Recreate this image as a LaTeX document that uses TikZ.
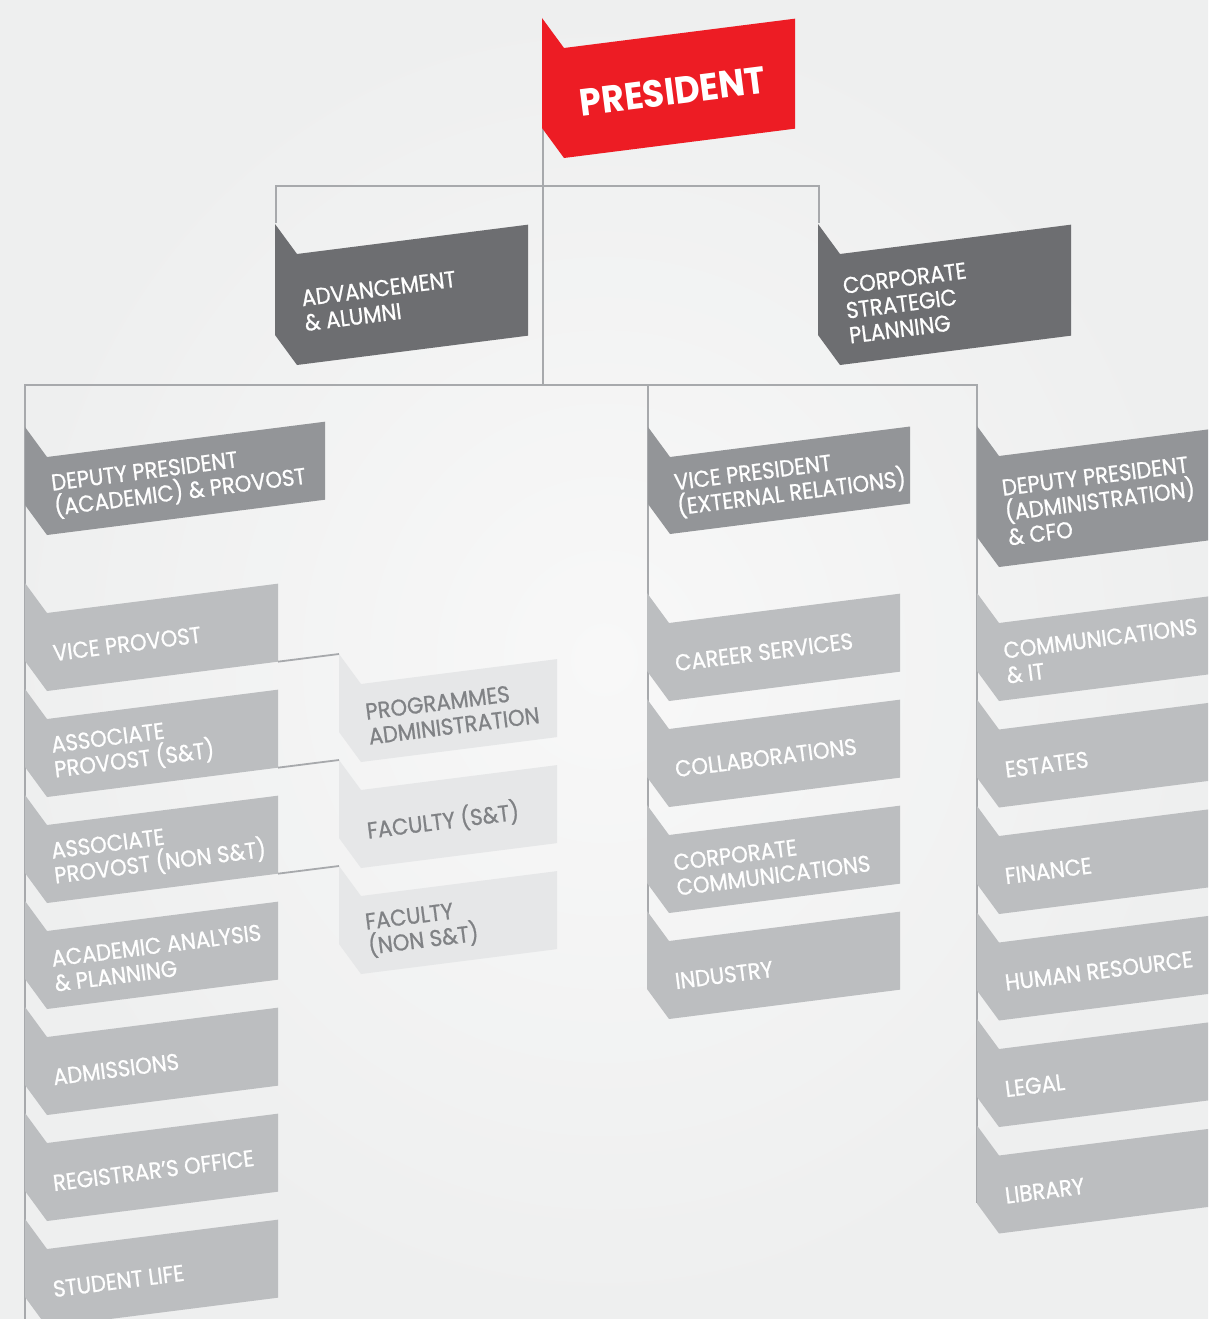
\documentclass[tikz,border=0pt]{standalone}
\usepackage{fontspec}
\setmainfont{Poppins}[FakeStretch=0.92]
\newfontfamily\lblfont{Poppins}[FakeStretch=0.92, FakeBold=0.9]
\usetikzlibrary{calc}
\definecolor{bgin}{HTML}{F8F8F8}
\definecolor{bgout}{HTML}{EEEFEF}
\definecolor{redc}{HTML}{ED1C24}
\definecolor{darkc}{HTML}{6D6E71}
\definecolor{midc}{HTML}{939598}
\definecolor{lightc}{HTML}{BCBEC0}
\definecolor{palec}{HTML}{E6E7E8}
\definecolor{paletext}{HTML}{808285}
\definecolor{linec}{HTML}{A7A9AC}
\tikzset{
  conn/.style={draw=linec, line width=2.2pt},
  lbl/.style={text=white, align=left, inner sep=0pt, font=\lblfont\fontsize{23}{25}\selectfont},
  plbl/.style={lbl, text=paletext},
  toplbl/.style={text=white, inner sep=0pt, font=\fontsize{38}{38}\selectfont\bfseries},
}
% #1 name, #2 fold left x, #3 main top-left y, #4 width, #5 height, #6 fill, #7 label style, #8 text, #9 text x offset
\newcommand{\orgbox}[9]{%
  \pgfmathsetmacro\xa{#2+22}%
  \pgfmathsetmacro\xb{#2+22+#4}%
  \pgfmathsetmacro\ya{#3-30}%
  \pgfmathsetmacro\yb{#3-#4*0.127}%
  \pgfmathsetmacro\yc{#3-#4*0.127+#5}%
  \pgfmathsetmacro\yd{#3+#5}%
  \pgfmathsetmacro\ye{#3+#5-30}%
  \fill[#6] (#2,\ya) -- (\xa,#3) -- (\xb,\yb) -- (\xb,\yc) -- (\xa,\yd) -- (#2,\ye) -- cycle;
  \coordinate (#1-ft) at (#2,\ya);
  \coordinate (#1-fb) at (#2,\ye);
  \coordinate (#1-br) at (\xb,\yc);
  \pgfmathsetmacro\tx{\xa+#9}%
  \pgfmathsetmacro\ym{#3+#5/2-#9*0.127+2}%
  \node[#7, anchor=west, rotate=7.24] (#1) at (\tx,\ym) {#8};
}
\begin{document}
\begin{tikzpicture}[x=1pt, y=-1pt]
\useasboundingbox (0,0) rectangle (1208,1319);
\clip (0,0) rectangle (1208,1319);
\shade[inner color=bgin, outer color=bgout] (0,0) rectangle (1208,1319);

% junction coordinates
\coordinate (bus1) at (543,186);
\coordinate (bus2) at (543,385);

% connector end points (lines lie under the boxes)
\coordinate (p-fb) at (543,128);
\coordinate (a-ft) at (276,223);
\coordinate (c-ft) at (819,223);
\coordinate (l-top) at (25,385);
\coordinate (m-top) at (648,385);
\coordinate (r-top) at (977,385);
\coordinate (l-end) at (25,1319);
\coordinate (m-end) at (648,988);
\coordinate (r-end) at (977,1203);
\draw[conn] (p-fb) -- (bus2);
\draw[conn] (a-ft) -- (a-ft |- bus1) -- (c-ft |- bus1) -- (c-ft);
\draw[conn] (l-end) -- (l-top) -- (r-top) -- (r-end);
\draw[conn] (m-top) -- (m-end);

% top level
\orgbox{pres}{542}{48}{231}{110}{redc}{toplbl}{PRESIDENT}{16}
\orgbox{adv}{275}{254}{231}{111}{darkc}{lbl}{ADVANCEMENT\\\& ALUMNI}{6}
\orgbox{csp}{818}{254}{231}{111}{darkc}{lbl}{CORPORATE\\STRATEGIC\\PLANNING}{6}

% second level
\orgbox{dpa}{25}{457}{278}{78}{midc}{lbl}{DEPUTY PRESIDENT\\(ACADEMIC) \& PROVOST}{6}
\orgbox{vpe}{648}{457}{240}{77}{midc}{lbl}{VICE PRESIDENT\\(EXTERNAL RELATIONS)}{6}
\orgbox{dpm}{977}{456}{240}{111}{midc}{lbl}{DEPUTY PRESIDENT\\(ADMINISTRATION)\\\& CFO}{6}

% left column
\orgbox{vp}{25}{613}{231}{78}{lightc}{lbl}{VICE PROVOST}{6}
\orgbox{ast}{25}{719}{231}{78}{lightc}{lbl}{ASSOCIATE\\PROVOST (S\&T)}{6}
\orgbox{ans}{25}{825}{231}{78}{lightc}{lbl}{ASSOCIATE\\PROVOST (NON S\&T)}{6}
\orgbox{aap}{25}{931}{231}{78}{lightc}{lbl}{ACADEMIC ANALYSIS\\\& PLANNING}{6}
\orgbox{adm}{25}{1037}{231}{78}{lightc}{lbl}{ADMISSIONS}{6}
\orgbox{reg}{25}{1143}{231}{78}{lightc}{lbl}{REGISTRAR’S OFFICE}{6}
\orgbox{stl}{25}{1249}{231}{78}{lightc}{lbl}{STUDENT LIFE}{6}

% programmes column
\orgbox{pga}{339}{684}{196}{78}{palec}{plbl}{PROGRAMMES\\ADMINISTRATION}{6}
\orgbox{fst}{339}{790}{196}{78}{palec}{plbl}{FACULTY (S\&T)}{6}
\orgbox{fns}{339}{896}{196}{78}{palec}{plbl}{FACULTY\\(NON S\&T)}{6}

\draw[conn, line width=1.8pt] (vp-br) -- (pga-ft);
\draw[conn, line width=1.8pt] (ast-br) -- (fst-ft);
\draw[conn, line width=1.8pt] (ans-br) -- (fns-ft);

% middle column
\orgbox{car}{647}{623}{231}{78}{lightc}{lbl}{CAREER SERVICES}{6}
\orgbox{col}{647}{729}{231}{78}{lightc}{lbl}{COLLABORATIONS}{6}
\orgbox{ccm}{647}{835}{231}{78}{lightc}{lbl}{CORPORATE\\COMMUNICATIONS}{6}
\orgbox{ind}{647}{941}{231}{78}{lightc}{lbl}{INDUSTRY}{6}

% right column
\orgbox{cit}{977}{623}{231}{78}{lightc}{lbl}{COMMUNICATIONS\\\& IT}{6}
\orgbox{est}{977}{729.5}{231}{78}{lightc}{lbl}{ESTATES}{6}
\orgbox{fin}{977}{836}{231}{78}{lightc}{lbl}{FINANCE}{6}
\orgbox{hr}{977}{942.5}{231}{78}{lightc}{lbl}{HUMAN RESOURCE}{6}
\orgbox{leg}{977}{1049}{231}{78}{lightc}{lbl}{LEGAL}{6}
\orgbox{lib}{977}{1155.5}{231}{78}{lightc}{lbl}{LIBRARY}{6}
\end{tikzpicture}
\end{document}
